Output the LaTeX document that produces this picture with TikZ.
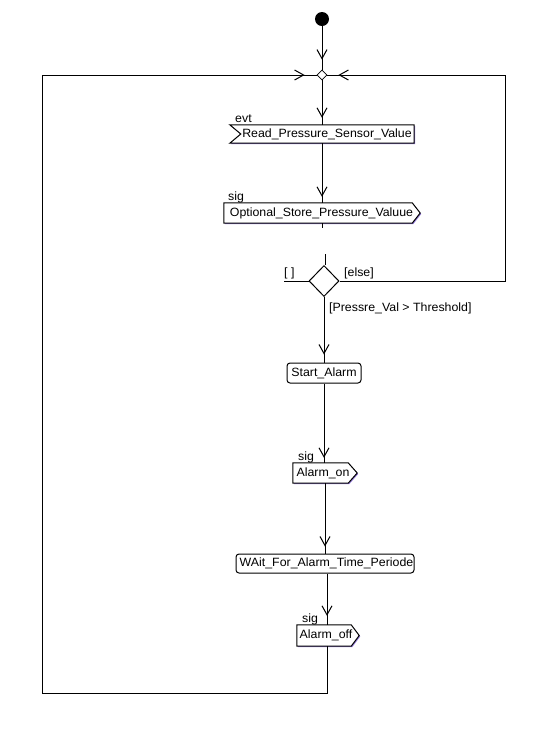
\documentclass[tikz,border=0pt]{standalone}
\usepackage{fontspec}
\setmainfont[FakeStretch=1.03]{Liberation Sans}
\usetikzlibrary{shapes.geometric,arrows.meta,decorations.markings}
\definecolor{boxshade}{rgb}{0.58,0.48,0.86}
\pgfdeclarelayer{background}
\pgfsetlayers{background,main}

% send-signal outline: box with a pointer on the east side (#2 = pointer depth)
\newcommand{\sendoutline}[2]{%
  \begin{pgfonlayer}{background}
    \fill[boxshade] ([shift={(1,1)}]#1.north west) -- ([shift={(1-#2,1)}]#1.north east)
      -- ([shift={(1,1)}]#1.east) -- ([shift={(1-#2,1)}]#1.south east)
      -- ([shift={(1,1)}]#1.south west) -- cycle;
    \filldraw[fill=white, line width=1pt] (#1.north west) -- ([xshift=-#2pt]#1.north east)
      -- (#1.east) -- ([xshift=-#2pt]#1.south east) -- (#1.south west) -- cycle;
  \end{pgfonlayer}}
% accept-event outline: box with a notch on the west side (#2 = notch depth)
\newcommand{\acceptoutline}[2]{%
  \begin{pgfonlayer}{background}
    \fill[boxshade] ([shift={(1,1)}]#1.north west) -- ([shift={(1,1)}]#1.north east)
      -- ([shift={(1,1)}]#1.south east) -- ([shift={(1,1)}]#1.south west)
      -- ([shift={(1+#2,1)}]#1.west) -- cycle;
    \filldraw[fill=white, line width=1pt] (#1.north west) -- (#1.north east)
      -- (#1.south east) -- (#1.south west) -- ([xshift=#2pt]#1.west) -- cycle;
  \end{pgfonlayer}}

\begin{document}
\begin{tikzpicture}[x=1pt,y=-1pt,
  every node/.style={font=\fontsize{12}{14}\selectfont, inner sep=0pt},
  line/.style={line width=1pt},
  flow/.style={line width=1pt, postaction={decorate},
    decoration={markings, mark=at position -#1 with {\arrow{Straight Barb[length=9pt,width=10pt,line width=1pt]}}}},
  initial/.style={circle, fill=black, minimum size=14pt},
  merge/.style={diamond, draw, line width=0.8pt, fill=white, minimum width=10pt, minimum height=10pt},
  decision/.style={diamond, draw, line width=1pt, fill=white, minimum width=30pt, minimum height=31pt},
  action/.style={rectangle, rounded corners=3pt, draw, line width=1pt, fill=white},
  signalbox/.style={rectangle},
  tag/.style={anchor=base west}
]
\begin{pgfonlayer}{background}
  \fill[white] (0,0) rectangle (538,748);
\end{pgfonlayer}
\useasboundingbox (0,0) rectangle (538,748);

% activity nodes
\node[initial] (init) at (322,19) {};
\node[merge] (merge) at (322,75) {};
\node[signalbox, minimum width=184pt, minimum height=18pt] (read) at (322,134) {\hspace*{10pt}Read\_Pressure\_Sensor\_Value};
\node[signalbox, minimum width=196pt, minimum height=20pt] (opt) at (322,213) {Optional\_Store\_Pressure\_Valuue\hspace*{1pt}};
\node[decision] (dec) at (324,281) {};
\node[action, minimum width=74pt, minimum height=20pt] (start) at (324,373) {Start\_Alarm};
\node[signalbox, minimum width=64pt, minimum height=20pt] (on) at (325,473) {Alarm\_on\hspace*{4pt}};
\node[action, minimum width=178pt, minimum height=19pt] (wait) at (325,563.5) {\hspace*{3pt}WAit\_For\_Alarm\_Time\_Periode};
\node[signalbox, minimum width=62pt, minimum height=21pt] (off) at (328,635.5) {Alarm\_off\hspace*{4pt}};
\sendoutline{opt}{8}
\sendoutline{on}{9}
\sendoutline{off}{8}
\acceptoutline{read}{11}

% stereotype tags
\node[tag] (tevt) at (235,122.5) {evt};
\node[tag] (tsig1) at (228,200) {sig};
\node[tag] (tsig2) at (298,460.5) {sig};
\node[tag] (tsig3) at (302,622) {sig};

% guards
\node[tag] (gempty) at (284,276) {[ ]};
\node[tag] (gelse) at (344,276) {[else]};
\node[tag] (gthr) at (329,311) {[Pressre\_Val > Threshold]};

% route corners
\coordinate (guardEnd) at (284,281);
\coordinate (elseBR) at (505,281);
\coordinate (elseTR) at (505,75);
\coordinate (loopBR) at (327,693);
\coordinate (loopBL) at (42,693);
\coordinate (loopTL) at (42,75);

% main flow
\draw[flow=10pt] (init) -- (merge);
\draw[flow=7pt] (merge) -- (read);
\draw[flow=6pt] (read) -- (opt);
\draw[line] (opt.south) -- ++(0,5);
\draw[line] ([xshift=1pt]dec.north) -- ++(0,-11);
\draw[line] (dec.west) -- (guardEnd);
\draw[flow=8pt] (dec) -- (start);
\draw[flow=5pt] (start.south) -- (start.south |- on.north);
\draw[flow=7pt] (on) -- (wait);
\draw[flow=9pt] ([xshift=2pt]wait.south) -- ([xshift=2pt]wait.south |- off.north);

% else branch back to the merge
\draw[flow=11pt] (dec.east) -- (elseBR) -- (elseTR) -- (merge.east);

% loop back after the alarm is switched off
\draw[flow=12pt] (off.south -| loopBR) -- (loopBR) -- (loopBL) -- (loopTL) -- (merge.west);
\end{tikzpicture}
\end{document}
